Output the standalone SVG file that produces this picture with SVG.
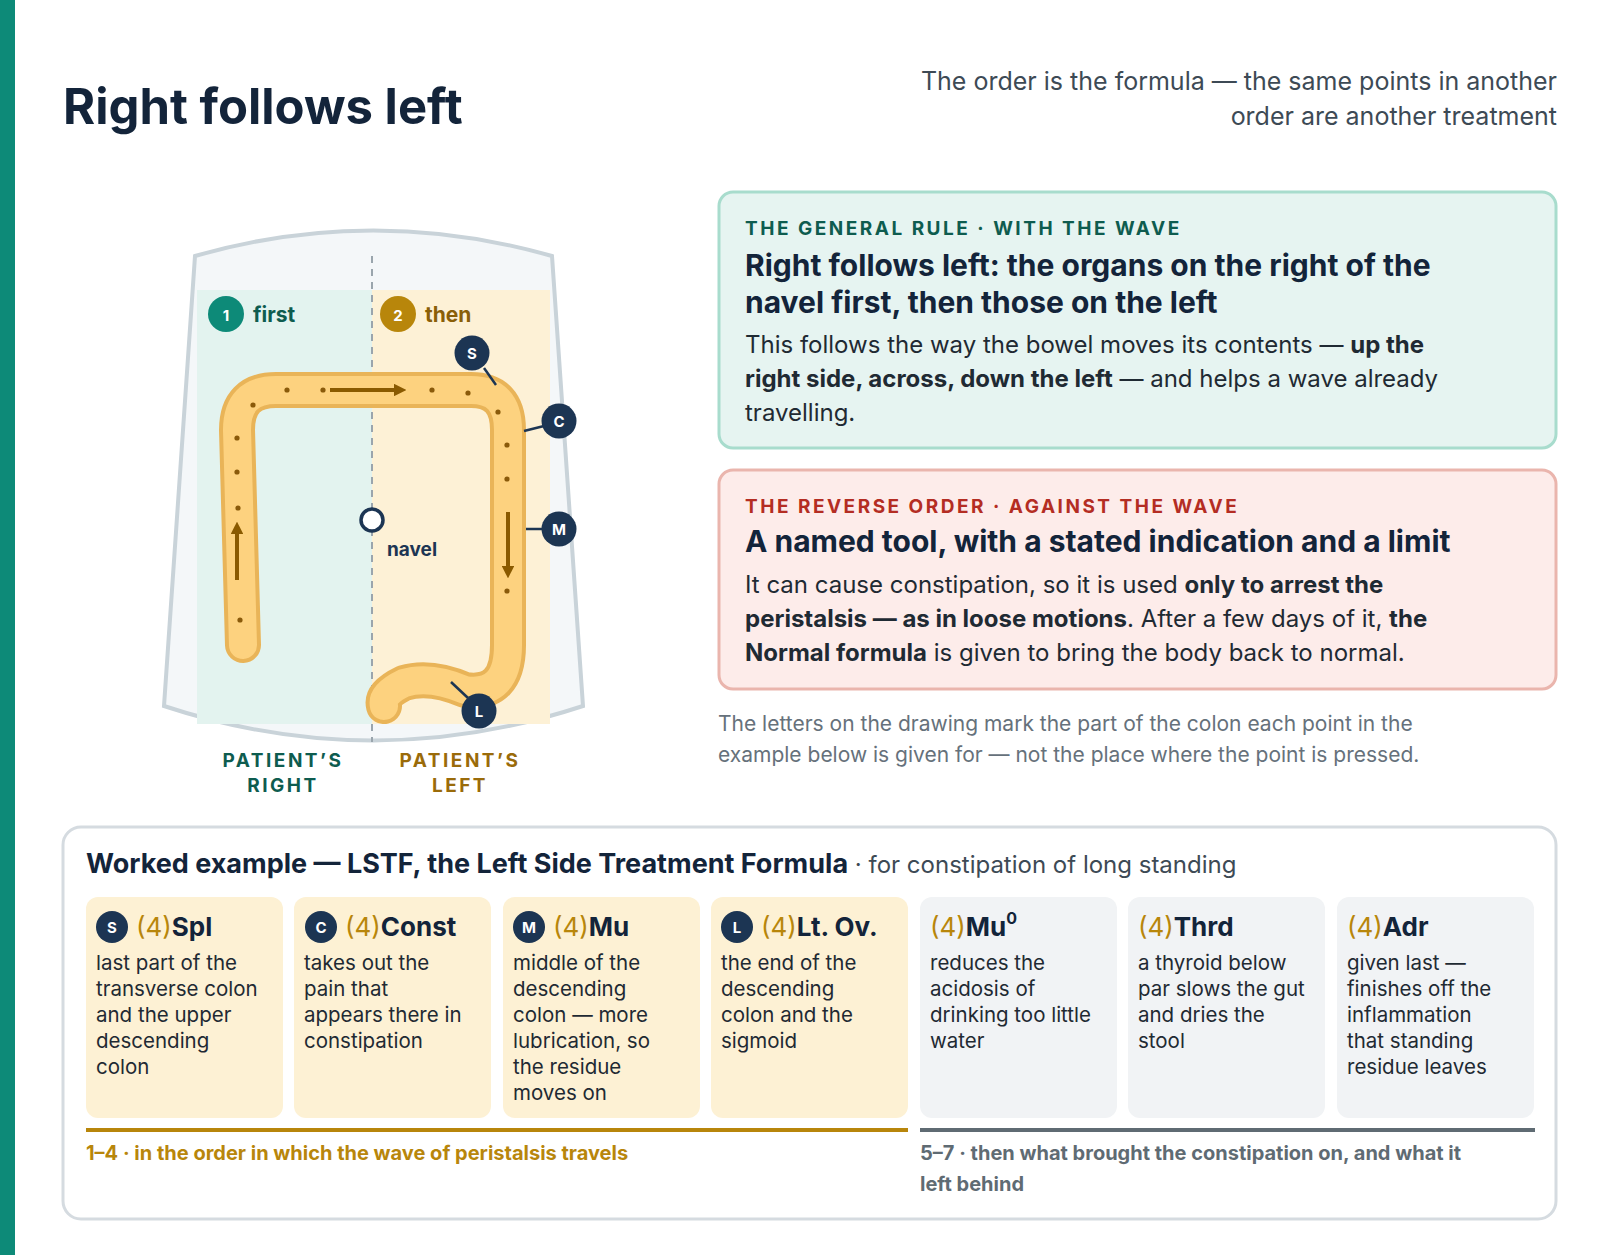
<svg xmlns="http://www.w3.org/2000/svg" width="1600" height="1255" viewBox="0 0 1600 1255">
<style>
text{font-family:Inter,"Noto Sans",sans-serif}
.b{font-weight:700}
.cap{font-size:19px;font-weight:700;letter-spacing:2.5px}
.h2{font-size:30px;font-weight:700;fill:#13243a}
.body{font-size:24px;fill:#1f2a33}
.ct{font-size:26px;font-weight:700;fill:#13243a}
.n4{font-weight:400;fill:#b8860b}
.cb{font-size:20.5px;fill:#1f2a33}
.bd{fill:#1c3553}
.bl{fill:#fff;font-size:15px;font-weight:700;text-anchor:middle}
.dot{fill:#8a5a0a}
.ld{stroke:#1c3553;stroke-width:2.5}
</style>
<defs>
<marker id="ah" viewBox="0 0 10 10" refX="5" refY="5" markerWidth="3.2" markerHeight="3.2" orient="auto"><path d="M0,0 L10,5 L0,10 z" fill="#8a5a00"/></marker>
</defs>
<rect x="0" y="0" width="15" height="1255" fill="#0d8a78"/>
<g id="title">
<text x="63" y="124" font-size="49" class="b" fill="#13243a">Right follows left</text>
<text x="1557" y="90" font-size="25" fill="#3d4a55" text-anchor="end">The order is the formula — the same points in another</text>
<text x="1557" y="125" font-size="25" fill="#3d4a55" text-anchor="end">order are another treatment</text>
</g>
<g id="abdomen">
<path d="M195 256 Q373 205 552 256 L583 706 Q373 775 164 706 Z" fill="#f4f7f9" stroke="#c9d3d9" stroke-width="4"/>
<rect x="197" y="290" width="175" height="434" fill="#e3f3ef"/>
<rect x="372" y="290" width="178" height="434" fill="#fdf1d6"/>
<line x1="372" y1="256" x2="372" y2="742" stroke="#9aa5ad" stroke-width="2" stroke-dasharray="7 6"/>
</g>
<g id="zones">
<circle cx="226" cy="314" r="18" fill="#0d8a78"/><text x="226" y="321" class="bl" font-size="18">1</text>
<text x="253" y="322" font-size="21" class="b" fill="#0e5c4f">first</text>
<circle cx="398" cy="314" r="18" fill="#b8860b"/><text x="398" y="321" class="bl" font-size="18">2</text>
<text x="425" y="322" font-size="21" class="b" fill="#8a5f08">then</text>
</g>
<g id="colon">
<path d="M243 645 L237 430 Q237 390 276 390 L471 390 Q508 390 508 430 L508 645 Q508 696 465 690 Q430 675 404 683 Q381 694 384 706" fill="none" stroke="#e9b458" stroke-width="36" stroke-linecap="round" stroke-linejoin="round"/>
<path d="M243 645 L237 430 Q237 390 276 390 L471 390 Q508 390 508 430 L508 645 Q508 696 465 690 Q430 675 404 683 Q381 694 384 706" fill="none" stroke="#fdd27f" stroke-width="28" stroke-linecap="round" stroke-linejoin="round"/>
<g class="dot">
<circle cx="240" cy="620" r="2.6"/><circle cx="238" cy="508" r="2.6"/><circle cx="237" cy="472" r="2.6"/><circle cx="237" cy="438" r="2.6"/><circle cx="253" cy="405" r="2.6"/><circle cx="287" cy="390" r="2.6"/><circle cx="323" cy="390" r="2.6"/><circle cx="432" cy="390" r="2.6"/><circle cx="468" cy="393" r="2.6"/><circle cx="498" cy="412" r="2.6"/><circle cx="507" cy="445" r="2.6"/><circle cx="507" cy="479" r="2.6"/><circle cx="507" cy="591" r="2.6"/>
</g>
<line x1="330" y1="390" x2="400" y2="390" stroke="#8a5a00" stroke-width="4" marker-end="url(#ah)"/>
<line x1="237" y1="580" x2="237" y2="528" stroke="#8a5a00" stroke-width="4" marker-end="url(#ah)"/>
<line x1="508" y1="512" x2="508" y2="572" stroke="#8a5a00" stroke-width="4" marker-end="url(#ah)"/>
</g>
<g id="navel">
<circle cx="372" cy="520" r="11" fill="#fff" stroke="#1c3553" stroke-width="3.5"/>
<text x="387" y="556" font-size="19" class="b" fill="#1c3553">navel</text>
</g>
<g id="markers">
<line class="ld" x1="484" y1="368" x2="496" y2="385"/>
<circle class="bd" cx="472" cy="353" r="17.5"/><text x="472" y="358.5" class="bl">S</text>
<line class="ld" x1="524" y1="431" x2="544" y2="426"/>
<circle class="bd" cx="559" cy="421" r="17.5"/><text x="559" y="426.5" class="bl">C</text>
<line class="ld" x1="526" y1="529" x2="542" y2="529"/>
<circle class="bd" cx="559" cy="529" r="17.5"/><text x="559" y="534.5" class="bl">M</text>
<line class="ld" x1="451" y1="682" x2="468" y2="698"/>
<circle class="bd" cx="479" cy="711" r="17.5"/><text x="479" y="716.5" class="bl">L</text>
</g>
<g id="sides">
<text x="283" y="767" class="cap" fill="#0e5c4f" text-anchor="middle">PATIENT’S</text>
<text x="283" y="792" class="cap" fill="#0e5c4f" text-anchor="middle">RIGHT</text>
<text x="460" y="767" class="cap" fill="#9a6b0a" text-anchor="middle">PATIENT’S</text>
<text x="460" y="792" class="cap" fill="#9a6b0a" text-anchor="middle">LEFT</text>
</g>
<g id="rule">
<rect x="719" y="192" width="837" height="256" rx="14" fill="#e6f4f1" stroke="#a8dccd" stroke-width="3"/>
<text x="745" y="235" class="cap" fill="#0e5c4f">THE GENERAL RULE · WITH THE WAVE</text>
<text x="745" y="276" class="h2">Right follows left: the organs on the right of the</text>
<text x="745" y="313" class="h2">navel first, then those on the left</text>
<text x="745" y="353" class="body">This follows the way the bowel moves its contents — <tspan class="b">up the</tspan></text>
<text x="745" y="387" class="body"><tspan class="b">right side, across, down the left</tspan> — and helps a wave already</text>
<text x="745" y="421" class="body">travelling.</text>
</g>
<g id="reverse">
<rect x="719" y="470" width="837" height="219" rx="14" fill="#fdecea" stroke="#eab5ad" stroke-width="3"/>
<text x="745" y="513" class="cap" fill="#b42d23">THE REVERSE ORDER · AGAINST THE WAVE</text>
<text x="745" y="552" class="h2">A named tool, with a stated indication and a limit</text>
<text x="745" y="593" class="body">It can cause constipation, so it is used <tspan class="b">only to arrest the</tspan></text>
<text x="745" y="627" class="body"><tspan class="b">peristalsis — as in loose motions</tspan>. After a few days of it, <tspan class="b">the</tspan></text>
<text x="745" y="661" class="body"><tspan class="b">Normal formula</tspan> is given to bring the body back to normal.</text>
</g>
<g id="note">
<text x="718" y="731" font-size="21" fill="#66717b">The letters on the drawing mark the part of the colon each point in the</text>
<text x="718" y="762" font-size="21" fill="#66717b">example below is given for — not the place where the point is pressed.</text>
</g>
<g id="example">
<rect x="63" y="827" width="1493" height="392" rx="18" fill="#fff" stroke="#d5dbe0" stroke-width="3"/>
<text x="86" y="873" font-size="27" class="b" fill="#13243a">Worked example — LSTF, the Left Side Treatment Formula<tspan font-size="24" font-weight="400" fill="#3d4a55"> · for constipation of long standing</tspan></text>
</g>
<g id="card1">
<rect x="86" y="897" width="197" height="221" rx="12" fill="#fdf1d4"/>
<circle class="bd" cx="112" cy="927" r="16"/><text x="112" y="932.5" class="bl">S</text>
<text x="136" y="936" class="ct"><tspan class="n4">(4)</tspan>Spl</text>
<text class="cb"><tspan x="96" y="970">last part of the</tspan><tspan x="96" y="996">transverse colon</tspan><tspan x="96" y="1022">and the upper</tspan><tspan x="96" y="1048">descending</tspan><tspan x="96" y="1074">colon</tspan></text>
</g>
<g id="card2">
<rect x="294" y="897" width="197" height="221" rx="12" fill="#fdf1d4"/>
<circle class="bd" cx="321" cy="927" r="16"/><text x="321" y="932.5" class="bl">C</text>
<text x="345" y="936" class="ct"><tspan class="n4">(4)</tspan>Const</text>
<text class="cb"><tspan x="304" y="970">takes out the</tspan><tspan x="304" y="996">pain that</tspan><tspan x="304" y="1022">appears there in</tspan><tspan x="304" y="1048">constipation</tspan></text>
</g>
<g id="card3">
<rect x="503" y="897" width="197" height="221" rx="12" fill="#fdf1d4"/>
<circle class="bd" cx="529" cy="927" r="16"/><text x="529" y="932.5" class="bl">M</text>
<text x="553" y="936" class="ct"><tspan class="n4">(4)</tspan>Mu</text>
<text class="cb"><tspan x="513" y="970">middle of the</tspan><tspan x="513" y="996">descending</tspan><tspan x="513" y="1022">colon — more</tspan><tspan x="513" y="1048">lubrication, so</tspan><tspan x="513" y="1074">the residue</tspan><tspan x="513" y="1100">moves on</tspan></text>
</g>
<g id="card4">
<rect x="711" y="897" width="197" height="221" rx="12" fill="#fdf1d4"/>
<circle class="bd" cx="737" cy="927" r="16"/><text x="737" y="932.5" class="bl">L</text>
<text x="761" y="936" class="ct"><tspan class="n4">(4)</tspan>Lt. Ov.</text>
<text class="cb"><tspan x="721" y="970">the end of the</tspan><tspan x="721" y="996">descending</tspan><tspan x="721" y="1022">colon and the</tspan><tspan x="721" y="1048">sigmoid</tspan></text>
</g>
<g id="card5">
<rect x="920" y="897" width="197" height="221" rx="12" fill="#f1f3f5"/>
<text x="930" y="936" class="ct"><tspan class="n4">(4)</tspan>Mu<tspan font-size="16" dy="-12">0</tspan></text>
<text class="cb"><tspan x="930" y="970">reduces the</tspan><tspan x="930" y="996">acidosis of</tspan><tspan x="930" y="1022">drinking too little</tspan><tspan x="930" y="1048">water</tspan></text>
</g>
<g id="card6">
<rect x="1128" y="897" width="197" height="221" rx="12" fill="#f1f3f5"/>
<text x="1138" y="936" class="ct"><tspan class="n4">(4)</tspan>Thrd</text>
<text class="cb"><tspan x="1138" y="970">a thyroid below</tspan><tspan x="1138" y="996">par slows the gut</tspan><tspan x="1138" y="1022">and dries the</tspan><tspan x="1138" y="1048">stool</tspan></text>
</g>
<g id="card7">
<rect x="1337" y="897" width="197" height="221" rx="12" fill="#f1f3f5"/>
<text x="1347" y="936" class="ct"><tspan class="n4">(4)</tspan>Adr</text>
<text class="cb"><tspan x="1347" y="970">given last —</tspan><tspan x="1347" y="996">finishes off the</tspan><tspan x="1347" y="1022">inflammation</tspan><tspan x="1347" y="1048">that standing</tspan><tspan x="1347" y="1074">residue leaves</tspan></text>
</g>
<g id="groups">
<rect x="86" y="1128" width="822" height="4" fill="#b8860b"/>
<rect x="920" y="1128" width="615" height="4" fill="#5f6b73"/>
<text x="86" y="1160" font-size="20" class="b" fill="#b8860b">1–4 · in the order in which the wave of peristalsis travels</text>
<text x="920" y="1160" font-size="20" class="b" fill="#5f6b73">5–7 · then what brought the constipation on, and what it</text>
<text x="920" y="1191" font-size="20" class="b" fill="#5f6b73">left behind</text>
</g>
</svg>
